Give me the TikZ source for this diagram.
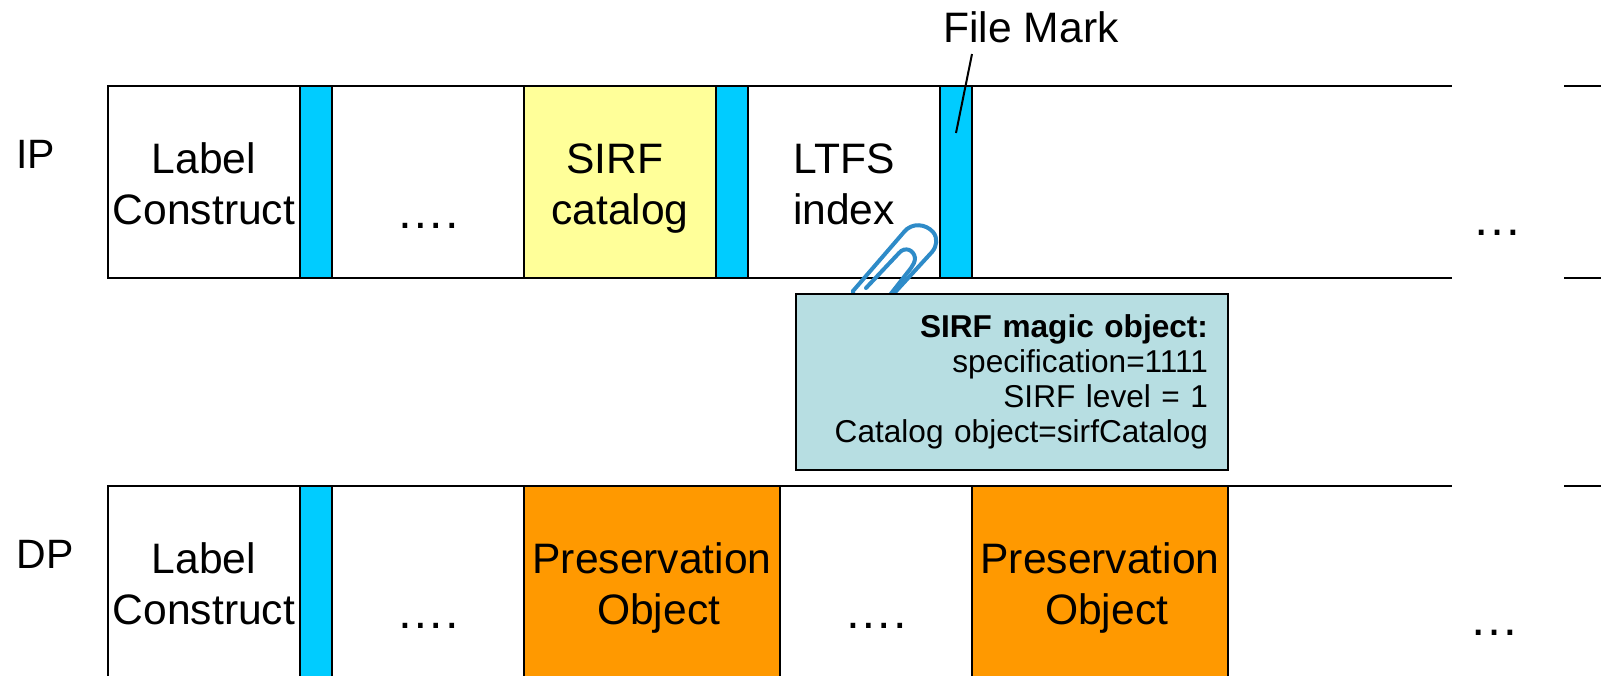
\documentclass[tikz,border=0pt]{standalone}
\usepackage{fontspec}
\setmainfont{Liberation Sans}
\usepackage{tikz}
\usetikzlibrary{positioning}
\definecolor{markblue}{HTML}{00CCFF}
\definecolor{catalogyellow}{HTML}{FFFF99}
\definecolor{objectorange}{HTML}{FF9900}
\definecolor{magicteal}{HTML}{B7DEE2}
\definecolor{clipblue}{HTML}{2E8BC8}
\newcommand{\bigtext}{\fontsize{21.3}{25.5}\selectfont}
\newcommand{\smalltext}{\fontsize{15.8}{17.4}\selectfont}
\newcommand{\celltext}[2]{\rule{0pt}{17.3pt}#1\\\smash{#2}}
\newcommand{\celldots}{\smash{\raisebox{-23pt}{\fontsize{24.3}{25.5}\selectfont ….}}}
\tikzstyle{block} = [rectangle, draw=black, line width=1pt, inner sep=0pt, outer sep=0pt,
	minimum width=96pt, minimum height=96pt, align=center, font=\bigtext]
\tikzstyle{filemark} = [block, fill=markblue, minimum width=16pt]
\tikzstyle{catalog} = [block, fill=catalogyellow]
\tikzstyle{object} = [block, fill=objectorange, minimum width=128pt]
\tikzstyle{magic} = [block, fill=magicteal, minimum width=216pt, minimum height=88pt,
	text width=196pt, inner xsep=10pt, font=\smalltext, align=right]
\tikzstyle{caption} = [inner sep=0pt, font=\bigtext]
\tikzstyle{rowname} = [inner sep=0pt, font=\fontsize{20.5}{23}\selectfont]
\tikzstyle{more} = [inner sep=0pt, font=\fontsize{25}{30}\selectfont]
\tikzstyle{line} = [draw, line width=1pt]

\begin{document}
\begin{tikzpicture}[x=0.5pt, y=-0.5pt]
	\clip (0,0) rectangle (1601,675);
	% Place nodes
	\node [rowname, anchor=base west] (ip) at (16,168) {IP};
	\node [block, anchor=north west] (labelip) at (108,86) {\celltext{Label}{Construct}};
	\node [filemark, right=0pt of labelip] (markone) {};
	\node [block, right=0pt of markone] (gapip) {\celldots};
	\node [catalog, right=0pt of gapip] (catalog) {\celltext{SIRF\hspace*{5pt}}{catalog}};
	\node [filemark, right=0pt of catalog] (marktwo) {};
	\node [block, right=0pt of marktwo] (index) {\celltext{LTFS}{index}};
	\node [filemark, right=0pt of index] (markthree) {};
	\node [caption, anchor=base] (filemarktext) at (1031,42) {File Mark};
	\node [more, anchor=base] (moreip) at (1497,235) {…};
	\coordinate (marksource) at (972,54);
	\coordinate (marktarget) at (956,133);
	\coordinate (ipupperend) at (1452,86);
	\coordinate (iplowerend) at (1452,278);
	\coordinate (ipupperstart) at (1564,86);
	\coordinate (iplowerstart) at (1564,278);
	\coordinate (ipupperright) at (1601,86);
	\coordinate (iplowerright) at (1601,278);

	\node [rowname, anchor=base west] (dp) at (16,568) {DP};
	\node [block, anchor=north west] (labeldp) at (108,486) {\celltext{Label}{Construct}};
	\node [filemark, right=0pt of labeldp] (markdp) {};
	\node [block, right=0pt of markdp] (gapdp) {\celldots};
	\node [object, right=0pt of gapdp] (objectone) {\celltext{Preservation}{\hspace*{6.6pt}Object}};
	\node [block, right=0pt of objectone] (gaptwo) {\celldots};
	\node [object, right=0pt of gaptwo] (objecttwo) {\celltext{Preservation}{\hspace*{6.6pt}Object}};
	\node [more, anchor=base] (moredp) at (1494,635) {…};
	\coordinate (dpupperend) at (1452,486);
	\coordinate (dpupperstart) at (1564,486);
	\coordinate (dpupperright) at (1601,486);
	% Draw edges
	\path [line] (markthree.north east) -- (ipupperend);
	\path [line] (markthree.south east) -- (iplowerend);
	\path [line] (ipupperstart) -- (ipupperright);
	\path [line] (iplowerstart) -- (iplowerright);
	\path [line] (objecttwo.north east) -- (dpupperend);
	\path [line] (dpupperstart) -- (dpupperright);
	\path [line] (marksource) -- (marktarget);
	% Paper clip
	\draw [clipblue, line width=2pt, line cap=round]
		(853,300) -- (853,291) -- (904,232) .. controls (912,222) and (926,224) .. (933,232)
		.. controls (938,238) and (937,246) .. (932,252) -- (888,300);
	\draw [clipblue, line width=2pt, line cap=round]
		(866,288) -- (899,253) .. controls (905,246) and (914,250) .. (915,258)
		.. controls (915,262) and (913,265) .. (911,268) -- (886,300);
	\node [magic, anchor=north west] (magicobject) at (796,294)
		{\textbf{SIRF magic object:}\\specification=1111\\SIRF level = 1\\Catalog object=sirfCatalog};
\end{tikzpicture}
\end{document}
